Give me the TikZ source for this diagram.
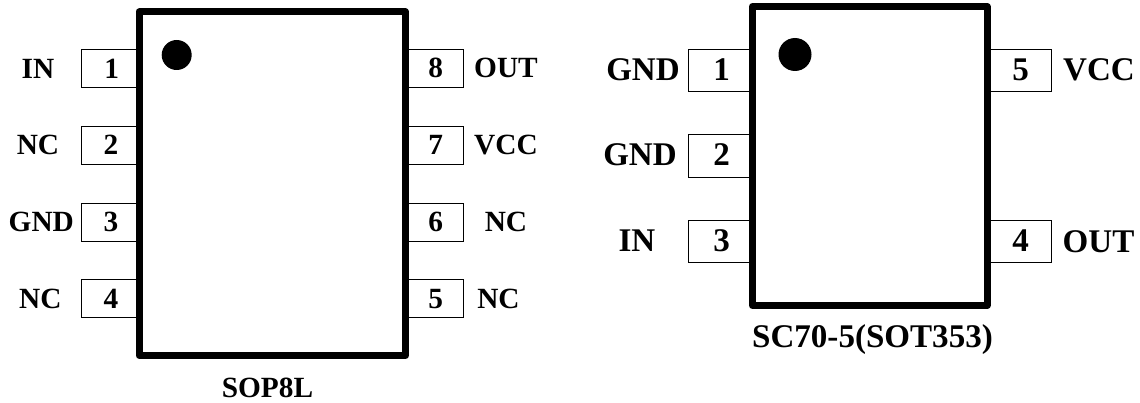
\documentclass[tikz,border=0pt]{standalone}
\usepackage{fontspec}
\setmainfont{Liberation Serif}
\begin{document}
\begin{tikzpicture}[x=0.75pt,y=-0.75pt,
pinbox/.style={draw=black,line width=0.75pt,fill=white},
body/.style={draw=black,line width=5.25pt,fill=white,line join=round},
lefttxt/.style={anchor=base,inner sep=0pt,font=\bfseries\fontsize{22}{24}\selectfont},
righttxt/.style={anchor=base,inner sep=0pt,font=\bfseries\fontsize{24.8}{26}\selectfont}]
\useasboundingbox (0,0) rectangle (1140,403);
% SOP8L pins
\path[pinbox] (81.5,50) rectangle (139,88);
\path[pinbox] (81.5,127) rectangle (139,164.7);
\path[pinbox] (81.5,203) rectangle (139,241);
\path[pinbox] (81.5,279.5) rectangle (139,317.3);
\path[pinbox] (405,50) rectangle (463.3,88);
\path[pinbox] (405,127) rectangle (463.3,164.7);
\path[pinbox] (405,203) rectangle (463.3,241);
\path[pinbox] (405,279.5) rectangle (463.3,317.3);
\path[body] (139,12) rectangle (405.5,355.5);
\fill[black] (176.7,55) circle (15);
\node[lefttxt] (a1) at (111.7,78.3) {1};
\node[lefttxt] (a2) at (111,155) {2};
\node[lefttxt] (a3) at (111,231) {3};
\node[lefttxt] (a4) at (111,308) {4};
\node[lefttxt] (a8) at (435.7,78) {8};
\node[lefttxt] (a7) at (435.7,154.5) {7};
\node[lefttxt] (a6) at (435.7,231) {6};
\node[lefttxt] (a5) at (435.7,308) {5};
\node[lefttxt] (nIN) at (38,78.3) {IN};
\node[lefttxt] (nNC2) at (38,155) {NC};
\node[lefttxt] (nGND) at (41.3,231) {GND};
\node[lefttxt] (nNC4) at (40.3,308) {NC};
\node[lefttxt] (nOUT) at (506,78) {OUT};
\node[lefttxt] (nVCC) at (506,155) {VCC};
\node[lefttxt] (nNC6) at (506,231) {NC};
\node[lefttxt] (nNC5) at (498.5,308) {NC};
\node[lefttxt] (tA) at (267.5,397) {SOP8L};
% SC70-5 pins
\path[pinbox] (688.5,49.3) rectangle (752,91.7);
\path[pinbox] (688.5,135) rectangle (752,177);
\path[pinbox] (688.5,220.3) rectangle (752,262.7);
\path[pinbox] (987,49.3) rectangle (1051.7,91.7);
\path[pinbox] (987,220.3) rectangle (1051.7,262.7);
\path[body] (752.5,6.5) rectangle (987,305.5);
\fill[black] (795,54.5) circle (16.5);
\node[righttxt] (b1) at (721.7,81) {1};
\node[righttxt] (b2) at (721.7,165.7) {2};
\node[righttxt] (b3) at (721.7,251.7) {3};
\node[righttxt] (b5) at (1020.7,81) {5};
\node[righttxt] (b4) at (1020.7,251.7) {4};
\node[righttxt] (mG1) at (643,81) {GND};
\node[righttxt] (mG2) at (640,166) {GND};
\node[righttxt] (mIN) at (637,251.7) {IN};
\node[righttxt] (mV) at (1099,81) {VCC};
\node[righttxt] (mO) at (1098.5,252) {OUT};
\node[righttxt] (tB) at (872.5,347.7) {SC70-5(SOT353)};
\end{tikzpicture}
\end{document}
